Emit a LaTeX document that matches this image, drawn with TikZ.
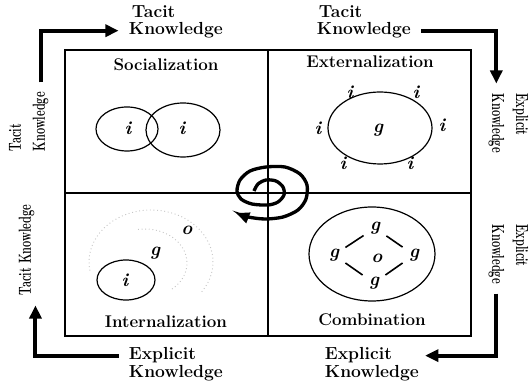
\documentclass[tikz,border=0pt]{standalone}
\usepackage{tikz}
\usetikzlibrary{arrows.meta}

\tikzset{
    etichetta/.style={font=\fontsize{13.1}{14}\selectfont\bfseries, inner sep=0.5pt},
    etichettaSu/.style={etichetta, rotate=90, xscale=0.63},
    etichettaGiu/.style={etichetta, rotate=-90, xscale=0.63},
    titolo/.style={font=\fontsize{12.7}{14}\selectfont\bfseries},
    lettera/.style={font=\fontsize{14}{14}\selectfont\bfseries\itshape, inner sep=3pt},
    frecciaK/.style={line width=3pt, -{Triangle[length=10pt,width=9pt]}, shorten <=7pt, shorten >=7pt},
    cerchio/.style={line width=0.9pt},
    traccia/.style={gray!45, dotted, line width=0.7pt}
}

\begin{document}
\begin{tikzpicture}[x=0.75pt,y=-0.75pt]
    \useasboundingbox (0,0) rectangle (529,384);

        % Riquadro e quadranti
    \draw[line width=1pt] (65,50) rectangle (471,336);
    \draw[line width=1pt] (268,50) -- (268,336);
    \draw[line width=1pt] (65,193) -- (471,193);

        % Etichette esterne
    \node[etichetta, anchor=base west] (tT1) at (131,18) {Tacit};
    \node[etichetta, anchor=base west] (kT1) at (128,35) {Knowledge};
    \node[etichetta, anchor=base west] (tT2) at (318,18) {Tacit};
    \node[etichetta, anchor=base west] (kT2) at (316,35) {Knowledge};
    \node[etichetta, anchor=base west] (eB1) at (128,360) {Explicit};
    \node[etichetta, anchor=base west] (kB1) at (128,378) {Knowledge};
    \node[etichetta, anchor=base west] (eB2) at (324,360) {Explicit};
    \node[etichetta, anchor=base west] (kB2) at (324,378) {Knowledge};

    \node[etichettaSu, anchor=base west] (tL1) at (21,152) {Tacit};
    \node[etichettaSu, anchor=base west] (kL1) at (45,152) {Knowledge};
    \node[etichettaSu, anchor=base west] (tkL2) at (31,296) {Tacit Knowledge};
    \node[etichettaGiu, anchor=base west] (eR1) at (516,93) {Explicit};
    \node[etichettaGiu, anchor=base west] (kR1) at (492,93) {Knowledge};
    \node[etichettaGiu, anchor=base west] (eR2) at (516,224) {Explicit};
    \node[etichettaGiu, anchor=base west] (kR2) at (492,224) {Knowledge};

        % Frecce agli angoli
    \draw[frecciaK] (kL1.east) |- (kT1.west);
    \draw[frecciaK] (kT2.east) -| (kR1.west);
    \draw[frecciaK, shorten >=4pt] (kR2.east) |- (eB2.east -| kB2.east);
    \draw[frecciaK] (eB1.west) -| (tkL2.south west);

        % Primo quadrante: socializzazione
    \node[titolo] (socT) at (166,65) {Socialization};
    \draw[cerchio] (127,129) ellipse [x radius=31, y radius=22];
    \draw[cerchio] (183,130) ellipse [x radius=37, y radius=27];
    \node[lettera] (iS1) at (128,128) {i};
    \node[lettera] (iS2) at (182,128) {i};

        % Secondo quadrante: esternalizzazione
    \node[titolo] (extT) at (370,62) {Externalization};
    \draw[cerchio] (380,128) ellipse [x radius=52, y radius=36];
    \node[lettera] (gE) at (378,130) {g};
    \node[lettera] (iE1) at (350,92) {i};
    \node[lettera] (iE2) at (416,92) {i};
    \node[lettera] (iE3) at (318,128) {i};
    \node[lettera] (iE4) at (442,125) {i};
    \node[lettera] (iE5) at (343,163) {i};
    \node[lettera] (iE6) at (410,163) {i};

        % Terzo quadrante: internalizzazione
    \node[titolo] (intT) at (166,322) {Internalization};
    \draw[traccia] (151,262) ++(35:62 and 52) arc[start angle=35, end angle=-190, x radius=62, y radius=52];
    \draw[traccia] (145,263) ++(50:42 and 34) arc[start angle=50, end angle=-100, x radius=42, y radius=34];
    \draw[cerchio] (126,280) ellipse [x radius=29, y radius=20];
    \node[lettera] (iI) at (125,280) {i};
    \node[lettera] (gI) at (155,253) {g};
    \node[lettera] (oI) at (187,230) {o};

        % Quarto quadrante: combinazione
    \node[titolo] (comT) at (372,320) {Combination};
    \draw[cerchio] (372,254) ellipse [x radius=63, y radius=47];
    \node[lettera] (gC1) at (375,228) {g};
    \node[lettera] (gC2) at (334,255) {g};
    \node[lettera] (gC3) at (414,255) {g};
    \node[lettera] (gC4) at (374,283) {g};
    \node[lettera] (oC) at (377,258) {o};
    \draw[line width=1.2pt, shorten <=2pt, shorten >=2pt] (gC1) -- (gC2);
    \draw[line width=1.2pt, shorten <=2pt, shorten >=2pt] (gC1) -- (gC3);
    \draw[line width=1.2pt, shorten <=2pt, shorten >=2pt] (gC2) -- (gC4);
    \draw[line width=1.2pt, shorten <=2pt, shorten >=2pt] (gC3) -- (gC4);

        % Spirale centrale
    \draw[line width=2.5pt, -{Triangle[length=10pt,width=8pt]}]
        plot[smooth] coordinates {(254,191) (258,184) (266,180) (276,181) (283,187) (284,195)
            (278,202) (268,205) (252,204) (241,199) (237,191) (240,180) (250,171) (266,167)
            (285,167) (300,174) (307,185) (306,199) (298,210) (283,217) (265,219) (248,217) (236,213)};

\end{tikzpicture}
\end{document}
